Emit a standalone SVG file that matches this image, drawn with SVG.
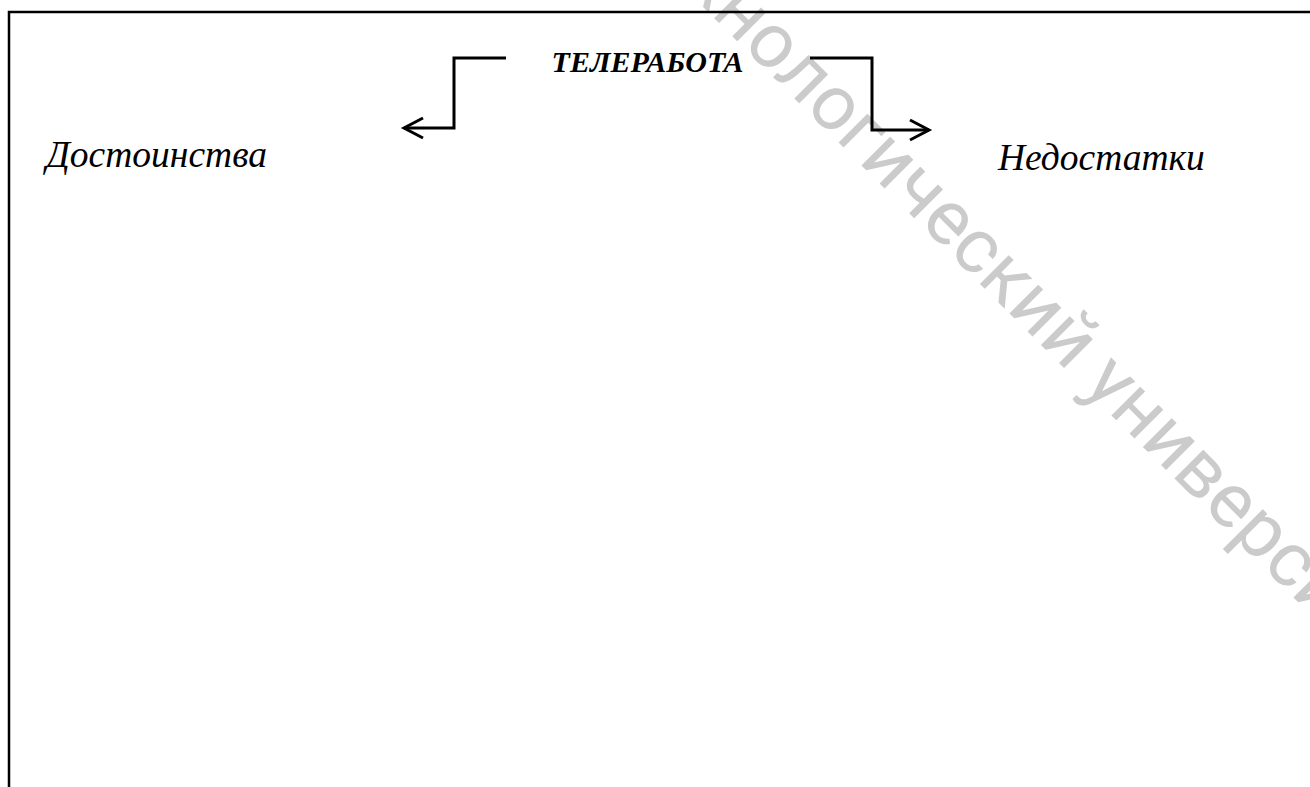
<svg xmlns="http://www.w3.org/2000/svg" width="1310" height="787" viewBox="0 0 1310 787">
<style>
.frame{stroke:#000;stroke-width:2.5;fill:none}
.conn{stroke:#000;stroke-width:3;fill:none;stroke-linejoin:miter}
.wm{font-family:Roboto,"Liberation Sans",sans-serif;font-size:77px;fill:#cbcbcb}
.title{font-family:"Liberation Serif","Times New Roman",serif;font-size:30px;font-weight:bold;font-style:italic;fill:#000}
.lbl{font-family:"Liberation Serif","Times New Roman",serif;font-size:37.5px;font-style:italic;fill:#000}
</style>
<defs>
<marker id="arr" markerUnits="userSpaceOnUse" markerWidth="30" markerHeight="30" refX="20" refY="10" orient="auto" viewBox="0 0 30 20">
<path d="M1,0 L20,10 L1,20" fill="none" stroke="#000" stroke-width="3"/>
</marker>
</defs>
<rect width="1310" height="787" fill="#fff"/>
<text class="wm" x="630" y="-66" transform="rotate(45 630 -66)">технологический университет</text>
<g id="frame">
<path class="frame" d="M9,787 V12 H1310"/>
</g>
<g id="node-title"><text class="title" x="647.5" y="72" text-anchor="middle">ТЕЛЕРАБОТА</text></g>
<g id="node-pros"><text class="lbl" x="46" y="167">Достоинства</text></g>
<g id="node-cons"><text class="lbl" x="998" y="170">Недостатки</text></g>
<g id="connectors">
<path class="conn" d="M506,58 H454 V128 H404" marker-end="url(#arr)"/>
<path class="conn" d="M810,58 H872 V130 H929" marker-end="url(#arr)"/>
</g>
</svg>
